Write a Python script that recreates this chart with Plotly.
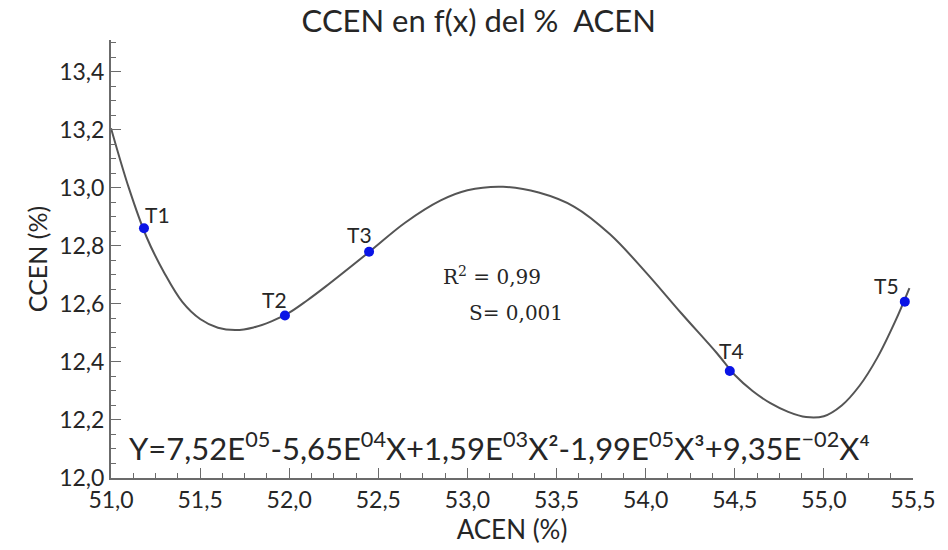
import plotly.graph_objects as go

# Treatment points
labels = ["T1", "T2", "T3", "T4", "T5"]
acen = [51.185, 51.976, 52.448, 54.472, 55.454]
ccen = [12.861, 12.560, 12.780, 12.369, 12.608]

# Fitted curve
curve_x = [51.0, 51.1, 51.2, 51.3, 51.4, 51.5, 51.6, 51.7, 51.8, 51.9, 52.0, 52.1, 52.2,
           52.45, 52.65, 52.85, 53.0, 53.2, 53.4, 53.6, 53.8, 54.0, 54.2, 54.4, 54.5,
           54.6, 54.7, 54.8, 54.9, 55.0, 55.1, 55.2, 55.3, 55.4, 55.48]
curve_y = [13.206, 13.0, 12.83, 12.706, 12.607, 12.548, 12.518, 12.51, 12.519, 12.54,
           12.57, 12.612, 12.658, 12.78, 12.88, 12.957, 12.992, 13.004, 12.984, 12.935,
           12.84, 12.71, 12.568, 12.43, 12.355, 12.30, 12.258, 12.228, 12.21, 12.213,
           12.25, 12.318, 12.415, 12.54, 12.655]

label_shift = [(14, 14), (-10, 16), (-10, 17), (2, 20), (-18, 16)]

FONT = "Lato"
TXT = "#262626"
AX = "#6b6b6b"

fig = go.Figure()
fig.add_trace(go.Scatter(x=curve_x, y=curve_y, mode="lines",
                         line=dict(color="#555555", width=2, shape="spline", smoothing=1.0),
                         hoverinfo="skip", showlegend=False))
fig.add_trace(go.Scatter(x=acen, y=ccen, mode="markers",
                         marker=dict(color="#0a14e6", size=10),
                         showlegend=False))

for lab, xv, yv, (dx, dy) in zip(labels, acen, ccen, label_shift):
    fig.add_annotation(x=xv, y=yv, text=lab, showarrow=False, xshift=dx, yshift=dy,
                       font=dict(family=FONT, size=21, color=TXT))

fig.add_annotation(x=53.14, y=12.695, text="R<sup>2</sup> = 0,99", showarrow=False,
                   xanchor="center", font=dict(family="DejaVu Serif", size=20, color=TXT))
fig.add_annotation(x=53.27, y=12.57, text="S= 0,001", showarrow=False,
                   xanchor="center", font=dict(family="DejaVu Serif", size=20, color=TXT))
fig.add_annotation(x=51.09, y=12.11,
                   text="Y=7,52E<sup>05</sup>-5,65E<sup>04</sup>X+1,59E<sup>03</sup>X²-1,99E<sup>05</sup>X³+9,35E<sup>−02</sup>X⁴",
                   showarrow=False, xanchor="left",
                   font=dict(family=FONT, size=31, color=TXT))

fig.update_layout(
    width=948, height=550,
    margin=dict(l=111, r=26, t=40, b=72),
    paper_bgcolor="white", plot_bgcolor="white",
    separators=", ",
    title=dict(text="CCEN en f(x) del %  ACEN", x=0.505, xanchor="center", y=0.962, yanchor="middle",
               font=dict(family=FONT, size=31, color=TXT)),
    xaxis=dict(range=[51.0, 55.5], tick0=51.0, dtick=0.5, tickformat=".1f",
               showgrid=False, zeroline=False, showline=True, linecolor=AX, linewidth=2,
               ticks="inside", ticklen=10, tickcolor=AX, tickwidth=1,
               minor=dict(ticks="inside", ticklen=5, dtick=0.125, tickcolor=AX),
               tickfont=dict(family=FONT, size=23, color=TXT),
               title=dict(text="ACEN (%)", font=dict(family=FONT, size=26, color=TXT), standoff=4)),
    yaxis=dict(range=[12.0, 13.51], tick0=12.0, dtick=0.2, tickformat=".1f",
               showgrid=False, zeroline=False, showline=True, linecolor=AX, linewidth=2,
               ticks="inside", ticklen=10, tickcolor=AX, tickwidth=1,
               minor=dict(ticks="inside", ticklen=5, dtick=0.05, tickcolor=AX),
               tickfont=dict(family=FONT, size=23, color=TXT),
               title=dict(text="CCEN (%)", font=dict(family=FONT, size=25, color=TXT), standoff=4)),
)

fig.write_html("out.html")
